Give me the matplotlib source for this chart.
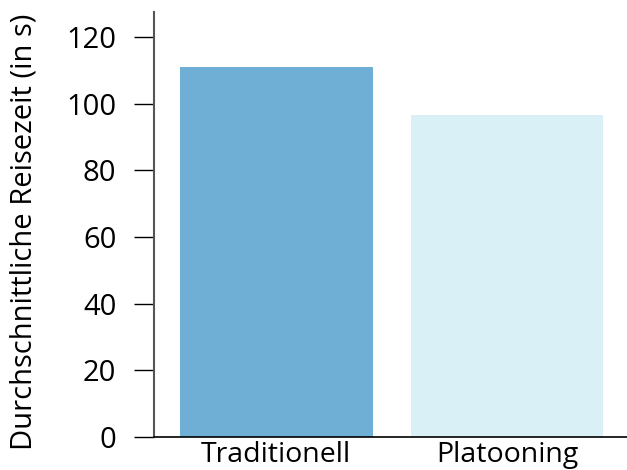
import matplotlib.pyplot as plt

categories = ["Traditionell", "Platooning"]
values = [111, 96.5]
colors = ["#6faed5", "#daf0f7"]

plt.rcParams['font.family'] = ['Open Sans', 'DejaVu Sans']

fig = plt.figure(figsize=(6.27, 4.70), dpi=100)
ax = fig.add_axes([0.2456, 0.0702, 0.7544, 0.9043])

ax.bar(range(len(categories)), values, width=0.835, color=colors)

ax.set_xlim(-0.53, 1.52)
ax.set_ylim(0, 127.5)
ax.set_yticks([0, 20, 40, 60, 80, 100, 120])
ax.set_xticks(range(len(categories)))
ax.set_xticklabels(categories)

ax.spines['top'].set_visible(False)
ax.spines['right'].set_visible(False)
ax.spines['left'].set_color('#555555')
ax.spines['left'].set_linewidth(1.5)
ax.spines['bottom'].set_color('black')
ax.spines['bottom'].set_linewidth(1.2)

ax.tick_params(axis='y', length=14.5, width=1, labelsize=21, pad=12.5, color='black')
ax.tick_params(axis='x', length=0, labelsize=20.5, pad=3)
ax.set_ylabel("Durchschnittliche Reisezeit (in s)", fontsize=21)
ax.yaxis.set_label_coords(-0.245, 0.4835)

fig.savefig("out.png", dpi=100)
